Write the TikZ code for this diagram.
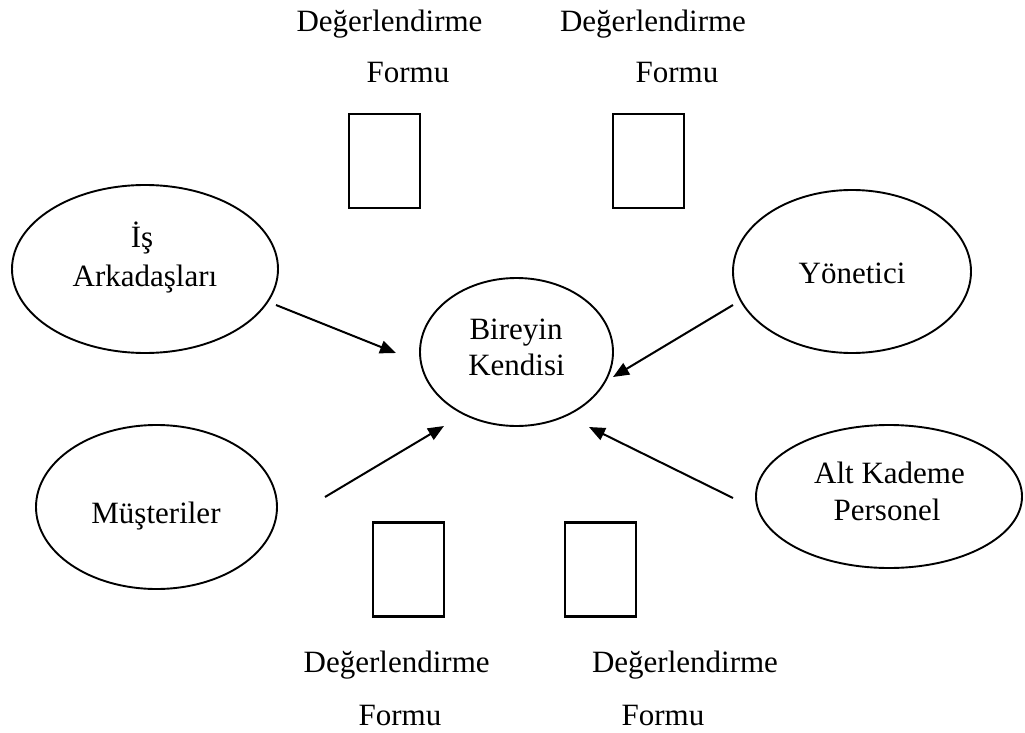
\documentclass[tikz,border=0pt]{standalone}
\usepackage{fontspec}
\setmainfont{Liberation Serif}
\usetikzlibrary{shapes.geometric,arrows.meta}
\begin{document}
\begin{tikzpicture}[x=1pt,y=-1pt,
  oval/.style={draw,ellipse,line width=1.9pt,inner sep=0pt},
  form/.style={draw,line width=2.2pt,inner sep=0pt,minimum width=71pt,minimum height=94pt},
  lbl/.style={anchor=base,inner sep=0pt,font=\fontsize{31}{37}\selectfont},
  arr/.style={line width=2pt,-{Triangle[length=16pt,width=13pt]}}]
\useasboundingbox (0,0) rectangle (1025,733);
% ellipses
\node[oval,minimum width=266pt,minimum height=168pt] (isa) at (145,269) {};
\node[oval,minimum width=238pt,minimum height=163pt] (yon) at (852,271.5) {};
\node[oval,minimum width=193pt,minimum height=148pt] (bir) at (516.5,352) {};
\node[oval,minimum width=241pt,minimum height=164pt] (mus) at (156.5,507) {};
\node[oval,minimum width=266pt,minimum height=143pt] (alt) at (889,496.5) {};
% ellipse texts
\node[lbl] (isa1) at (142,247) {İş};
\node[lbl] (isa2) at (145,286) {Arkadaşları};
\node[lbl] (yon1) at (852,283) {Yönetici};
\node[lbl] (bir1) at (516,339) {Bireyin};
\node[lbl] (bir2) at (516.5,375) {Kendisi};
\node[lbl] (mus1) at (156,523) {Müşteriler};
\node[lbl] (alt1) at (889.5,483) {Alt Kademe};
\node[lbl] (alt2) at (887,520) {Personel};
% forms
\node[form] (f1) at (384.5,161) {};
\node[form] (f2) at (648.5,161) {};
\node[form] (f3) at (408.5,569.5) {};
\node[form] (f4) at (600.5,569.5) {};
% form texts
\node[lbl] (t1a) at (389.5,32) {Değerlendirme};
\node[lbl] (t1b) at (408,83) {Formu};
\node[lbl] (t2a) at (653,32) {Değerlendirme};
\node[lbl] (t2b) at (677,83) {Formu};
\node[lbl] (t3a) at (396.7,672) {Değerlendirme};
\node[lbl] (t3b) at (400,725) {Formu};
\node[lbl] (t4a) at (685,672) {Değerlendirme};
\node[lbl] (t4b) at (663,725) {Formu};
% arrow ends
\coordinate (a1s) at (276,305);
\coordinate (a1e) at (396,353);
\coordinate (a2s) at (733,305);
\coordinate (a2e) at (613,377);
\coordinate (a3s) at (325,497);
\coordinate (a3e) at (444,426);
\coordinate (a4s) at (733,498);
\coordinate (a4e) at (589,427);
\draw[arr] (a1s) -- (a1e);
\draw[arr] (a2s) -- (a2e);
\draw[arr] (a3s) -- (a3e);
\draw[arr] (a4s) -- (a4e);
\end{tikzpicture}
\end{document}
